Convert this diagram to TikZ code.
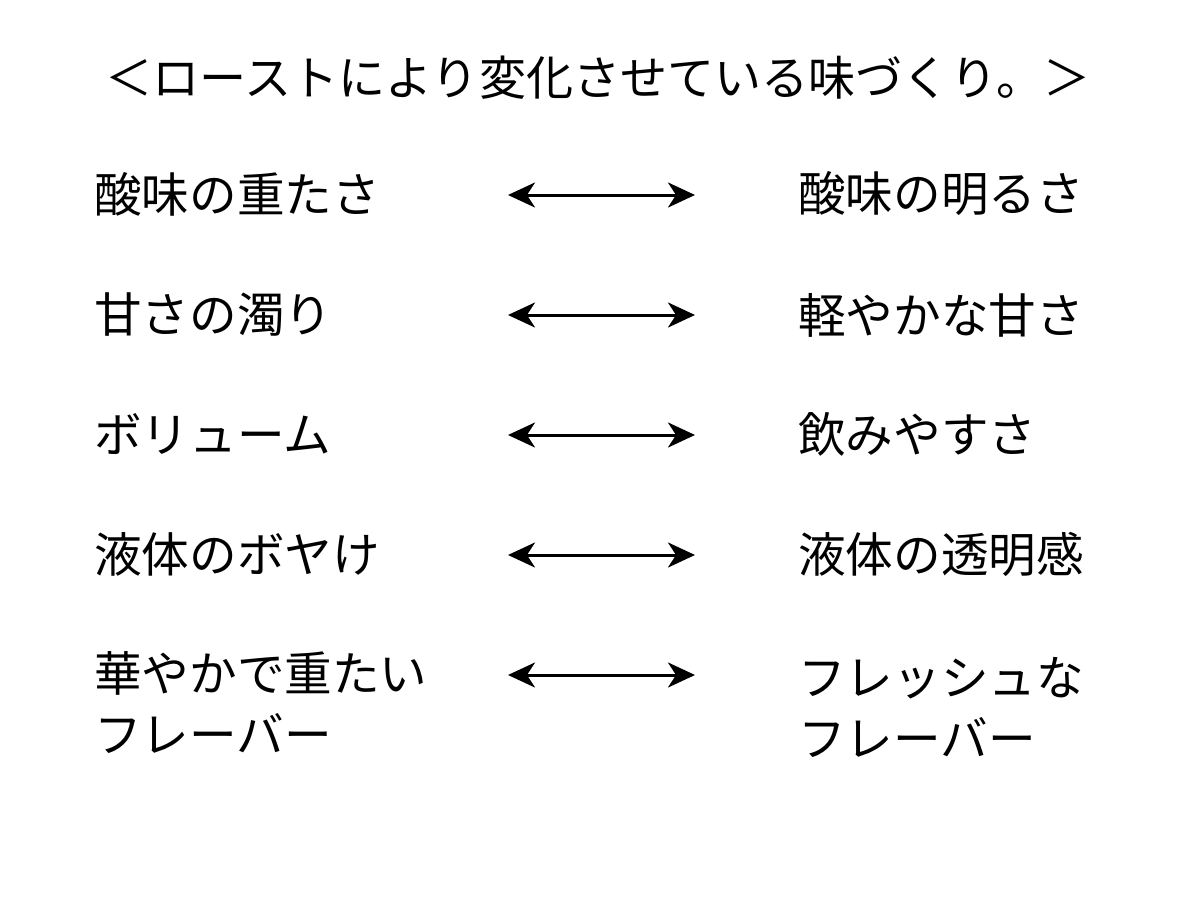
\documentclass[tikz,border=0pt]{standalone}
\usepackage{fontspec}
\setmainfont{Noto Sans CJK JP}
\usetikzlibrary{arrows.meta}
\tikzset{
  txt/.style={inner sep=0pt, anchor=west, font=\fontsize{47.6}{61}\selectfont, align=left},
  ttl/.style={inner sep=0pt, font=\fontsize{47.1}{62}\selectfont},
  dbl/.style={line width=3pt, {Stealth[length=27pt,width=25pt,inset=8pt]}-{Stealth[length=27pt,width=25pt,inset=8pt]}},
  pt/.style={inner sep=0pt, minimum size=0pt}
}
\begin{document}
\begin{tikzpicture}[x=1pt,y=-1pt]
\useasboundingbox[fill=white] (0,0) rectangle (1200,900);
\node[ttl] (title) at (598,78) {＜ローストにより変化させている味づくり。＞};
% left column
\node[txt] (l1) at (94,194) {酸味の重たさ};
\node[txt] (l2) at (94,315) {甘さの濁り};
\node[txt] (l3) at (94,434) {ボリューム};
\node[txt] (l4) at (94,554) {液体のボヤけ};
\node[txt] (l5) at (94,703) {華やかで重たい\\フレーバー};
% right column
\node[txt] (r1) at (798,194) {酸味の明るさ};
\node[txt] (r2) at (798,315) {軽やかな甘さ};
\node[txt] (r3) at (798,434) {飲みやすさ};
\node[txt] (r4) at (798,554) {液体の透明感};
\node[txt] (r5) at (798,707) {フレッシュな\\フレーバー};
% arrow ends
\foreach \i/\y in {1/195,2/315,3/435,4/555,5/675}{
  \coordinate (a\i) at (508,\y);
  \coordinate (b\i) at (695,\y);
  \draw[dbl] (a\i) -- (b\i);
}
\end{tikzpicture}
\end{document}
